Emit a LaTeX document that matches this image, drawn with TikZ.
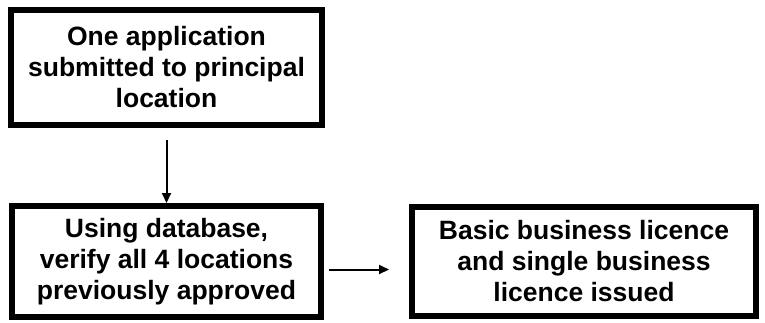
\documentclass[tikz,border=0pt]{standalone}
\usepackage{fontspec}
\setmainfont{Liberation Sans}
\usetikzlibrary{positioning,arrows.meta}

\begin{document}
\begin{tikzpicture} [
		every node/.style={inner sep=0pt, align=center,
			font=\bfseries\fontsize{26.5}{31}\selectfont},
		stage/.style={draw=black, line width=6pt, rectangle},
		flow/.style={line width=2pt, -{Triangle[length=10pt,width=9pt]}}
	]
	\useasboundingbox (0,0) rectangle (765pt,-322pt);

	\node (app) [stage, minimum width=311pt, minimum height=115pt] at (166.5pt,-67.5pt)
		{One application\\submitted to principal\\location};
	\node (verify) [stage, minimum width=309pt, minimum height=111pt, below=75pt of app]
		{Using database,\\verify all 4 locations\\previously approved};
	\node (licence) [stage, minimum width=344pt, minimum height=109pt, right=85pt of verify]
		{Basic business licence\\and single business\\licence issued};

	\draw [flow, shorten <=12pt] (app) -- (verify);
	\draw [flow, shorten <=5pt, shorten >=20pt] ([yshift=-8pt]verify.east) -- ([yshift=-8pt]licence.west);

\end{tikzpicture}
\end{document}
